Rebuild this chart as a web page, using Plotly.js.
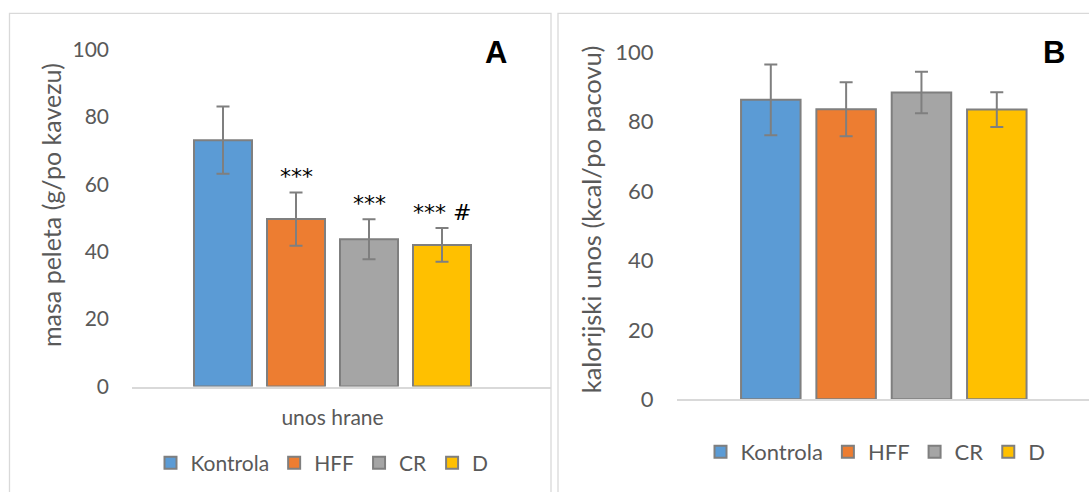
<!DOCTYPE html>
<html>
<head>
<meta charset="utf-8">
<script src="https://cdn.plot.ly/plotly-3.0.1.min.js"></script>
<style>
  html, body { margin: 0; padding: 0; background: #fff; }
  #chart { width: 1089px; height: 492px; }
</style>
</head>
<body>
<div id="chart"></div>
<script>
// Groups
const categories = ['Kontrola', 'HFF', 'CR', 'D'];

// Panel A: pellet mass eaten (g per cage), mean and error
const pelletMass = [73.1, 49.7, 43.7, 42.0];
const pelletMassErr = [10.0, 7.9, 5.9, 5.0];
const significance = ['', '***', '***', '***\u00a0#'];
const xLabelA = 'unos hrane';

// Panel B: caloric intake (kcal per rat), mean and error
const kcalIntake = [86.3, 83.6, 88.4, 83.5];
const kcalIntakeErr = [10.2, 7.8, 6.0, 5.0];

const yTicks = [0, 20, 40, 60, 80, 100];

// Styling
const fillColors = ['#5B9BD5', '#ED7D31', '#A5A5A5', '#FFC000'];
const edgeColor = '#7F7F7F';
const textGrey = '#595959';
const frameGrey = '#D9D9D9';
const W = 1089, H = 492;
const px = v => v / W;
const py = v => (H - v) / H;

function barTrace(i, values, errors, xa, ya, legendId, width) {
  return {
    type: 'bar',
    name: categories[i],
    x: [i],
    y: [values[i]],
    width: width,
    xaxis: xa,
    yaxis: ya,
    legend: legendId,
    marker: { color: fillColors[i], line: { color: edgeColor, width: 2 } },
    error_y: { type: 'data', array: [errors[i]], visible: true,
               color: edgeColor, thickness: 2, width: 6.5 },
    hoverinfo: 'skip'
  };
}

const traces = [];
categories.forEach((c, i) => traces.push(barTrace(i, pelletMass, pelletMassErr, 'x', 'y', 'legend', 0.795)));
categories.forEach((c, i) => traces.push(barTrace(i, kcalIntake, kcalIntakeErr, 'x2', 'y2', 'legend2', 0.79)));

const tickFont = { family: 'Lato, sans-serif', size: 21, color: textGrey };

// significance marks above the error bars of panel A
const sigNotes = significance.map((s, i) => ({
  text: s, x: i, y: pelletMass[i] + pelletMassErr[i], xref: 'x', yref: 'y',
  showarrow: false, yanchor: 'bottom', yshift: 1,
  font: { family: 'DejaVu Sans, sans-serif', size: 22, color: '#000' }
})).filter(a => a.text);

const layout = {
  width: W, height: H,
  margin: { l: 0, r: 0, t: 0, b: 0, pad: 0 },
  paper_bgcolor: '#fff', plot_bgcolor: 'rgba(0,0,0,0)',
  barmode: 'overlay',
  font: { family: 'Lato, sans-serif', color: textGrey },
  xaxis: {
    domain: [px(132), px(551)], range: [-1.2466, 4.493], anchor: 'y',
    tickvals: [(categories.length - 1) / 2], ticktext: [xLabelA],
    ticks: '', ticklabelstandoff: 11, tickfont: tickFont,
    showline: true, linecolor: frameGrey, linewidth: 2,
    showgrid: false, zeroline: false, fixedrange: true
  },
  yaxis: {
    domain: [0.2144, 0.8994], range: [0, 100], anchor: 'x',
    tickvals: yTicks, ticks: '', ticklabelstandoff: 22, tickfont: tickFont,
    showgrid: false, zeroline: false, showline: false, fixedrange: true
  },
  xaxis2: {
    domain: [px(676.6), 1], range: [-1.2505, 4.224], anchor: 'y2',
    showticklabels: false, ticks: '',
    showline: true, linecolor: frameGrey, linewidth: 2,
    showgrid: false, zeroline: false, fixedrange: true
  },
  yaxis2: {
    domain: [0.1884, 0.8937], range: [0, 100], anchor: 'x2',
    tickvals: yTicks, ticks: '', ticklabelstandoff: 22,
    tickfont: { family: 'Lato, sans-serif', size: 22, color: textGrey },
    showgrid: false, zeroline: false, showline: false, fixedrange: true
  },
  showlegend: true,
  legend: {
    orientation: 'h', x: px(322), xanchor: 'center', y: py(463), yanchor: 'middle',
    font: { family: 'Lato, sans-serif', size: 21, color: textGrey },
    bgcolor: 'rgba(0,0,0,0)', traceorder: 'normal'
  },
  legend2: {
    orientation: 'h', x: px(875.5), xanchor: 'center', y: py(452), yanchor: 'middle',
    font: { family: 'Lato, sans-serif', size: 22, color: textGrey },
    bgcolor: 'rgba(0,0,0,0)', traceorder: 'normal'
  },
  shapes: [
    { type: 'rect', xref: 'paper', yref: 'paper', x0: px(9.5), x1: px(551), y0: -0.05, y1: py(13.3),
      line: { color: frameGrey, width: 1.3 }, layer: 'below' },
    { type: 'rect', xref: 'paper', yref: 'paper', x0: px(558), x1: 1.05, y0: -0.05, y1: py(13.3),
      line: { color: frameGrey, width: 1.3 }, layer: 'below' }
  ],
  annotations: [
    { text: 'masa peleta (g/po kavezu)', xref: 'paper', yref: 'paper', x: px(51), y: py(205),
      textangle: -90, showarrow: false, xanchor: 'center', yanchor: 'middle',
      font: { family: 'Lato, sans-serif', size: 25, color: textGrey } },
    { text: 'kalorijski unos (kcal/po pacovu)', xref: 'paper', yref: 'paper', x: px(591.3), y: py(219),
      textangle: -90, showarrow: false, xanchor: 'center', yanchor: 'middle',
      font: { family: 'Lato, sans-serif', size: 25.5, color: textGrey } },
    { text: '<b>A</b>', xref: 'paper', yref: 'paper', x: px(496), y: py(53),
      showarrow: false, xanchor: 'center', yanchor: 'middle',
      font: { family: 'Liberation Sans, Arial, sans-serif', size: 31, color: '#000' } },
    { text: '<b>B</b>', xref: 'paper', yref: 'paper', x: px(1054), y: py(52),
      showarrow: false, xanchor: 'center', yanchor: 'middle',
      font: { family: 'Liberation Sans, Arial, sans-serif', size: 31, color: '#000' } }
  ].concat(sigNotes)
};

Plotly.newPlot('chart', traces, layout, { displayModeBar: false, staticPlot: true });
</script>
</body>
</html>
